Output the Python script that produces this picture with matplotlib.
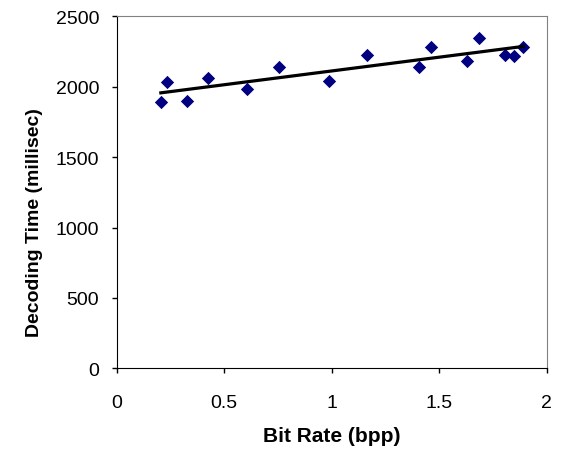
import numpy as np
import matplotlib.pyplot as plt

plt.rcParams['font.family'] = ['Liberation Sans', 'DejaVu Sans']

bit_rate = [0.206, 0.233, 0.327, 0.427, 0.606, 0.754, 0.987, 1.164,
            1.406, 1.461, 1.629, 1.685, 1.806, 1.846, 1.892]
decode_ms = [1889, 2031, 1901, 2060, 1984, 2142, 2043, 2227,
             2142, 2284, 2183, 2344, 2225, 2220, 2284]

fig = plt.figure(figsize=(5.63, 4.56), dpi=100)
ax = fig.add_axes([0.207, 0.190, 0.764, 0.772])

ax.scatter(bit_rate, decode_ms, marker='D', s=46, color='#000080', zorder=3, linewidths=0)

# linear trend line
k, b = np.polyfit(bit_rate, decode_ms, 1)
xs = np.array([min(bit_rate), max(bit_rate)])
ax.plot(xs, k * xs + b, color='black', lw=2.3, zorder=4)

ax.set_xlim(0, 2)
ax.set_ylim(0, 2500)
ax.set_xticks([0, 0.5, 1, 1.5, 2])
ax.set_xticklabels(['0', '0.5', '1', '1.5', '2'])
ax.set_yticks([0, 500, 1000, 1500, 2000, 2500])
ax.tick_params(direction='out', length=3.6, width=1, labelsize=14)
ax.tick_params(axis='y', pad=9)
ax.tick_params(axis='x', pad=15)

for s in ['top', 'right']:
    ax.spines[s].set_color('#808080')
for s in ['left', 'bottom']:
    ax.spines[s].set_color('black')

ax.set_xlabel('Bit Rate (bpp)', fontsize=15, fontweight='bold', labelpad=11)
ax.set_ylabel('Decoding Time (millisec)', fontsize=14, fontweight='bold')
ax.yaxis.set_label_coords(-0.171, 0.416)

fig.savefig('out.png', dpi=100)
